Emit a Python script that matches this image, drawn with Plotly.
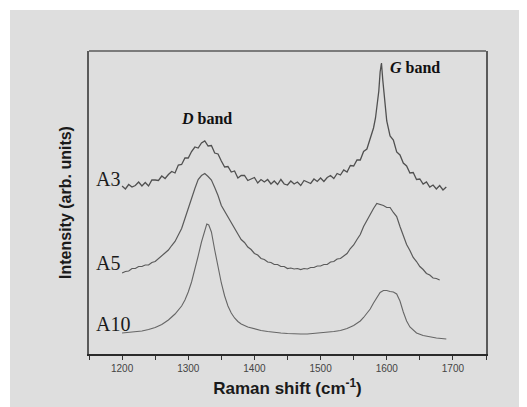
import plotly.graph_objects as go

# Raman shift (cm^-1) and intensities (arb. units)
a3_x = [1200,1205,1210,1215,1220,1225,1230,1235,1240,1245,1250,1255,1260,1265,1270,1275,1280,1285,1290,1295,
        1300,1305,1310,1315,1320,1325,1330,1335,1340,1345,1350,1355,1360,1365,1370,1375,1380,1385,1390,1395,
        1400,1405,1410,1415,1420,1425,1430,1435,1440,1445,1450,1455,1460,1465,1470,1475,1480,1485,1490,1495,
        1500,1505,1510,1515,1520,1525,1530,1535,1540,1545,1550,1555,1560,1565,1570,1575,1580,1583,1586,1588,
        1590,1592,1594,1596,1598,1600,1605,1610,1615,1620,1625,1630,1635,1640,1645,1650,1655,1660,1665,1670,
        1675,1680,1685,1690]
a3_y = [168,165,169.5,167,168.5,172,168,171.5,168,174,174,173.5,178,175.5,179.5,182.5,181,189,189.5,196,
        196,202.5,207,206,211,213,208,208.5,201,200,193,187,187.5,182,183,176,178.5,178.5,173.5,175,
        176.5,171,174.5,172,174.5,170,173,169.5,174.5,170,169,173,170,172,168.5,173.5,172,170.5,175,172.5,
        176,172.5,176.5,178.5,175.5,180.5,179,184,182,188.5,188,194,194,202.5,205,216,226,236,250,263,
        282,291,274,259,242,233,218,214,202,199,191,188,181,181.5,174.5,175,170,172,167,169,
        165,168.5,164,167]

a5_x = [1200,1205,1210,1215,1220,1225,1230,1235,1240,1245,1250,1255,1260,1265,1270,1275,1280,1285,1290,1295,
        1300,1305,1310,1315,1320,1325,1330,1335,1340,1345,1350,1355,1360,1365,1370,1375,1380,1385,1390,1395,
        1400,1405,1410,1415,1420,1425,1430,1435,1440,1445,1450,1455,1460,1465,1470,1475,1480,1485,1490,1495,
        1500,1505,1510,1515,1520,1525,1530,1535,1540,1545,1550,1555,1560,1565,1570,1575,1580,1585,1590,1595,
        1600,1605,1610,1615,1620,1625,1630,1635,1640,1645,1650,1655,1660,1665,1670,1675,1680]
a5_y = [81,82.5,83,85.5,85.5,87.5,87.5,89,89,91.5,92.5,95.5,97.5,101.5,104,108.5,112.5,119,125.5,135.5,
        144.5,155.5,165.5,174.5,178.5,180.5,177.5,174,166.5,158.5,148.5,142.5,136.5,131.5,124.5,120,114.5,111.5,107,104.5,
        100.5,99,95.5,94.5,92,91.5,89.5,89.5,87.5,87.5,85.5,86,85,85.5,84.5,85.5,85,86.5,86.5,88,
        88,89.5,89.5,92,92.5,95,95.5,98.5,100.5,105.5,109,114.5,119.5,127.5,133.5,140.5,145.5,150.5,149.5,148.5,
        146.5,146.5,141.5,137.5,127.5,118.5,109.5,103.5,96.5,92.5,87.5,84.5,80.5,79,76,75.5,74]

a10_x = [1200,1210,1220,1230,1240,1250,1260,1270,1280,1290,1295,1300,1305,1310,1315,1320,1325,1328,1331,1335,
         1340,1345,1350,1355,1360,1365,1370,1375,1380,1390,1400,1410,1420,1430,1440,1450,1460,1470,1480,1490,
         1500,1510,1520,1530,1540,1550,1560,1565,1570,1575,1580,1585,1590,1595,1600,1605,1610,1615,1620,1625,
         1630,1635,1640,1645,1655,1665,1675,1690]
a10_y = [21,21.5,22,23,24.5,26.5,29.5,34,40,48,54,62,72,84,98,112,124,130,129,122,
         104,86,71,58,48,41,36,32.5,30,27,25,23.5,22.5,21.5,21,20.5,20,20,20,20.5,
         21,21.5,22.5,23.5,25.5,28.5,33,36.5,40.5,45,51,57,61.5,63.5,63.5,62.5,62,60,53,42,
         33,27,23.5,21,18.5,17,16,15]

series_names = ["A3", "A5", "A10"]
label_x = [1158, 1158, 1158]
label_y = [175, 91.5, 30]

band_labels = ["<i>D</i> band", "<i>G</i> band"]
band_x = [1327, 1642]
band_y = [235.5, 287]

tick_vals = [1200, 1300, 1400, 1500, 1600, 1700]
tick_text = ["1200", "1300", "1400", "1500", "1600", "1700"]

fig = go.Figure()
colors = ["#505050", "#5a5a5a", "#666666"]
widths = [1.3, 1.2, 1.1]
for xs, ys, name, c, w in zip([a3_x, a5_x, a10_x], [a3_y, a5_y, a10_y], series_names, colors, widths):
    fig.add_trace(go.Scatter(x=xs, y=ys, mode="lines", name=name,
                             line=dict(color=c, width=w), showlegend=False))

for name, lx, ly in zip(series_names, label_x, label_y):
    fig.add_annotation(x=lx, y=ly, text=name, showarrow=False, xanchor="left", yanchor="middle",
                       font=dict(family="Liberation Serif, Times New Roman, serif", size=20, color="#1a1a1a"))

for t, bx, by in zip(band_labels, band_x, band_y):
    fig.add_annotation(x=bx, y=by, text="<b>" + t + "</b>", showarrow=False, xanchor="center", yanchor="middle",
                       font=dict(family="Liberation Serif, Times New Roman, serif", size=16, color="#111111"))

# gray card behind the chart (white strip top/left)
fig.add_shape(type="rect", xref="paper", yref="paper", x0=-0.199, x1=1.2, y0=-0.3, y1=1.1353,
              fillcolor="#dedede", line=dict(width=0), layer="below")
# top frame line
fig.add_shape(type="line", xref="paper", yref="paper", x0=0, x1=1, y0=1, y1=1,
              line=dict(color="#5a5a5a", width=1.5))

# page body has an 8px margin, so the figure is sized/offset to compensate
fig.update_layout(
    width=519, height=399,
    margin=dict(l=81, r=41, t=43, b=53),
    paper_bgcolor="white",
    plot_bgcolor="rgba(0,0,0,0)",
    font=dict(family="Arial, Liberation Sans, sans-serif"),
    xaxis=dict(range=[1150, 1750], tickmode="array", tickvals=tick_vals, ticktext=tick_text,
               ticks="outside", ticklen=4, tickwidth=1.3, tickcolor="#333333",
               minor=dict(tickmode="linear", tick0=1150, dtick=50, ticks="outside", ticklen=4,
                          tickwidth=1.3, tickcolor="#333333", showgrid=False),
               showline=True, linecolor="#2a2a2a", linewidth=2, showgrid=False, zeroline=False,
               tickfont=dict(size=10, color="#444444"),
               title=dict(text="<b>Raman shift (cm<sup>-1</sup>)</b>", standoff=9,
                          font=dict(size=17, color="#1a1a1a"))),
    yaxis=dict(range=[0, 303], showticklabels=False, ticks="", showgrid=False, zeroline=False,
               showline=True, mirror=True, linecolor="#5a5a5a", linewidth=1.5,
               title=dict(text="<b>Intensity (arb. units)</b>", standoff=12,
                          font=dict(size=16, color="#1a1a1a"))),
)

fig.write_html("out.html")
